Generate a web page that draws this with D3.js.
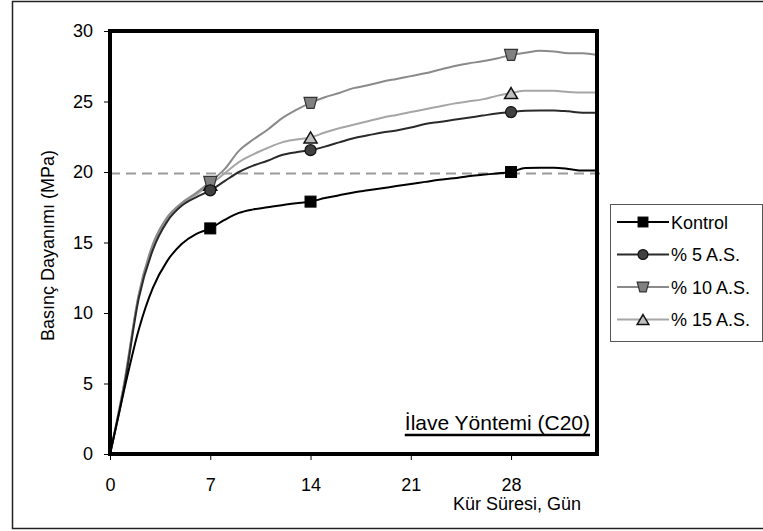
<!DOCTYPE html>
<html>
<head>
<meta charset="utf-8">
<script src="https://cdn.jsdelivr.net/npm/d3@7"></script>
<style>
  html, body { margin: 0; padding: 0; background: #fff; }
  svg { display: block; font-family: "Liberation Sans", Arial, sans-serif; }
</style>
</head>
<body>
<svg id="chart" width="763" height="531"></svg>
<script>
// Curing age (days) and compressive strength (MPa) per mix
const days = d3.range(0, 35);
const kontrol = [0, 4.6, 8.8, 11.8, 13.7, 14.9, 15.6, 16.0, 16.6, 17.1, 17.35, 17.5, 17.65, 17.78, 17.9,
  18.15, 18.35, 18.55, 18.7, 18.85, 19.0, 19.15, 19.3, 19.45, 19.55, 19.7, 19.8, 19.9, 20.0,
  20.28, 20.3, 20.3, 20.22, 20.1, 20.1];
const as5 = [0, 4.8, 11.0, 14.5, 16.5, 17.6, 18.2, 18.7, 19.35, 20.0, 20.45, 20.8, 21.2, 21.4, 21.55,
  21.8, 22.1, 22.4, 22.6, 22.8, 22.95, 23.15, 23.4, 23.55, 23.7, 23.85, 24.0, 24.15, 24.25,
  24.35, 24.37, 24.37, 24.3, 24.2, 24.2];
const as10 = [0, 5.1, 11.3, 14.9, 16.8, 17.8, 18.5, 19.3, 20.2, 21.5, 22.3, 23.0, 23.8, 24.4, 24.9,
  25.3, 25.6, 25.95, 26.15, 26.4, 26.6, 26.8, 27.0, 27.25, 27.5, 27.7, 27.85, 28.05, 28.3,
  28.45, 28.6, 28.55, 28.43, 28.43, 28.3];
const as15 = [0, 5.0, 11.2, 14.8, 16.7, 17.7, 18.4, 19.1, 19.9, 20.7, 21.25, 21.7, 22.1, 22.3, 22.45,
  22.8, 23.1, 23.35, 23.6, 23.85, 24.05, 24.25, 24.45, 24.65, 24.85, 25.0, 25.15, 25.4, 25.6,
  25.76, 25.76, 25.76, 25.68, 25.64, 25.64];
const markerDays = [7, 14, 28];
const xTicks = [0, 7, 14, 21, 28];
const yTicks = [0, 5, 10, 15, 20, 25, 30];
const limitValue = 19.9;
const seriesNames = ["Kontrol", "% 5 A.S.", "% 10 A.S.", "% 15 A.S."];

const series = [
  { name: seriesNames[0], values: kontrol, line: "#000000", shape: "square", fill: "#000000", stroke: "#000000" },
  { name: seriesNames[1], values: as5, line: "#2a2a2a", shape: "circle", fill: "#404040", stroke: "#111111" },
  { name: seriesNames[2], values: as10, line: "#8a8a8a", shape: "trap", fill: "#808080", stroke: "#333333" },
  { name: seriesNames[3], values: as15, line: "#a6a6a6", shape: "tri", fill: "#c0c0c0", stroke: "#111111" }
];

const svg = d3.select("#chart");

// Outer chart-area frame
svg.append("rect")
  .attr("x", 12.5).attr("y", 1.5).attr("width", 760).attr("height", 527)
  .attr("fill", "none").attr("stroke", "#222").attr("stroke-width", 1.5);

const plot = { left: 110, right: 597, top: 31, bottom: 454 };
const x = d3.scaleLinear().domain([0, 34]).range([plot.left, plot.right]);
const y = d3.scaleLinear().domain([0, 30]).range([plot.bottom, plot.top]);

// Axes (ticks outside, labels only)
const yAxis = d3.axisLeft(y).tickValues(yTicks).tickSize(6).tickPadding(11);
const gy = svg.append("g").attr("transform", `translate(${plot.left},0)`).call(yAxis);
const xAxis = d3.axisBottom(x).tickValues(xTicks).tickSize(6).tickPadding(18);
const gx = svg.append("g").attr("transform", `translate(0,${plot.bottom})`).call(xAxis);
[gx, gy].forEach(g => {
  g.select(".domain").remove();
  g.selectAll(".tick line").attr("stroke", "#000").attr("stroke-width", 1);
  g.selectAll(".tick text").attr("font-size", 18).attr("fill", "#000")
    .attr("font-family", "Liberation Sans, Arial, sans-serif");
});

// Horizontal reference line
svg.append("line")
  .attr("x1", plot.left).attr("x2", plot.right + 5)
  .attr("y1", y(limitValue)).attr("y2", y(limitValue))
  .attr("stroke", "#9a9a9a").attr("stroke-width", 2).attr("stroke-dasharray", "10,6");

// Series lines
const line = d3.line()
  .x((d, i) => x(days[i]))
  .y(d => y(d))
  .curve(d3.curveMonotoneX);

// draw lighter series first so darker ones sit on top
const drawOrder = [3, 2, 1, 0];
drawOrder.forEach(k => {
  const s = series[k];
  svg.append("path")
    .datum(s.values)
    .attr("d", line)
    .attr("fill", "none")
    .attr("stroke", s.line)
    .attr("stroke-width", 2)
    .attr("stroke-linejoin", "round");
});

function drawMarker(g, shape, cx, cy, fill, stroke, scale) {
  const k = scale || 1;
  if (shape === "square") {
    const s = 11 * k;
    g.append("rect").attr("x", cx - s / 2).attr("y", cy - s / 2).attr("width", s).attr("height", s)
      .attr("fill", fill).attr("stroke", stroke).attr("stroke-width", 1);
  } else if (shape === "circle") {
    g.append("circle").attr("cx", cx).attr("cy", cy).attr("r", 5.5 * k)
      .attr("fill", fill).attr("stroke", stroke).attr("stroke-width", 1.2);
  } else if (shape === "trap") {
    const tw = 6.5 * k, bw = 3.5 * k, h = 5.5 * k;
    g.append("path")
      .attr("d", `M${cx - tw},${cy - h}L${cx + tw},${cy - h}L${cx + bw},${cy + h}L${cx - bw},${cy + h}Z`)
      .attr("fill", fill).attr("stroke", stroke).attr("stroke-width", 1.2);
  } else if (shape === "tri") {
    const w = 6.5 * k, h = 5.5 * k;
    g.append("path")
      .attr("d", `M${cx},${cy - h}L${cx + w},${cy + h}L${cx - w},${cy + h}Z`)
      .attr("fill", fill).attr("stroke", stroke).attr("stroke-width", 1.5);
  }
}

// Markers at measurement ages
const mg = svg.append("g");
drawOrder.forEach(k => {
  const s = series[k];
  markerDays.forEach(dd => {
    drawMarker(mg, s.shape, x(dd), y(s.values[days.indexOf(dd)]), s.fill, s.stroke);
  });
});

// Thick plot frame
svg.append("rect")
  .attr("x", plot.left).attr("y", plot.top)
  .attr("width", plot.right - plot.left).attr("height", plot.bottom - plot.top)
  .attr("fill", "none").attr("stroke", "#000").attr("stroke-width", 4);

// Axis titles
svg.append("text")
  .attr("transform", `translate(54,${(plot.top + plot.bottom) / 2 + 3}) rotate(-90)`)
  .attr("text-anchor", "middle").attr("font-size", 18).attr("fill", "#000")
  .text("Basınç Dayanımı (MPa)");
svg.append("text")
  .attr("x", 517).attr("y", 510).attr("text-anchor", "middle")
  .attr("font-size", 18).attr("fill", "#000")
  .text("Kür Süresi, Gün");

// Method caption, underlined
const cap = svg.append("text")
  .attr("x", 590).attr("y", 430).attr("text-anchor", "end")
  .attr("font-size", 21).attr("fill", "#000")
  .text("İlave Yöntemi (C20)");
const bb = cap.node().getBBox();
svg.append("line")
  .attr("x1", bb.x).attr("x2", bb.x + bb.width)
  .attr("y1", 435).attr("y2", 435)
  .attr("stroke", "#000").attr("stroke-width", 2.5);

// Legend
const legend = svg.append("g");
legend.append("rect")
  .attr("x", 610.5).attr("y", 204.5).attr("width", 152).attr("height", 137)
  .attr("fill", "#fff").attr("stroke", "#555").attr("stroke-width", 1);
series.forEach((s, i) => {
  const ly = 222 + i * 32.5;
  legend.append("line").attr("x1", 617).attr("x2", 669).attr("y1", ly).attr("y2", ly)
    .attr("stroke", s.line).attr("stroke-width", 2);
  drawMarker(legend, s.shape, 643, ly, s.fill, s.stroke, 0.9);
  legend.append("text").attr("x", 671).attr("y", ly + 6.5)
    .attr("font-size", 18).attr("fill", "#000").text(s.name);
});
</script>
</body>
</html>
